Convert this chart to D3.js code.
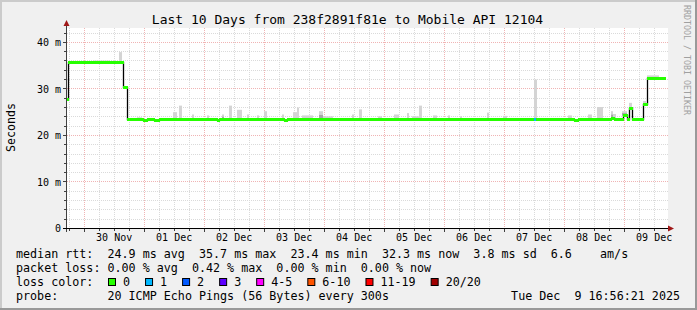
<!DOCTYPE html>
<html>
<head>
<meta charset="utf-8">
<script src="https://cdn.jsdelivr.net/npm/d3@7"></script>
<style>
  body { margin: 0; background: #f0f0f0; }
  svg text { font-family: "DejaVu Sans Mono", monospace; fill: #000; }
</style>
</head>
<body>
<svg id="chart" width="697" height="310"></svg>
<script>
// median rtt, as steps: hours since the window start and value in ms
var medianHours = [0, 0.8, 22.9, 24.4, 30.9, 32.3, 35.2, 37.2, 60.3, 61.1, 87.2, 88.4,
                   187.2, 188, 203.2, 204.8, 218, 219.2, 222.8, 224.3, 225.2, 226.4, 230.9, 232.3];
var medianMs = [27.8, 35.7, 30.3, 23.4, 23.15, 23.4, 23.15, 23.4, 23.15, 23.4, 23.15, 23.4,
                23.4, 23.4, 23.15, 23.4, 23.55, 23.4, 24.3, 23.4, 25.7, 23.4, 26.7, 32.3];
// number of lost pings (out of 20) for each median step
var medianLoss = [0, 0, 0, 0, 0, 0, 0, 0, 0, 0, 0, 0,
                  1, 0, 0, 0, 0, 0, 0, 0, 0, 0, 0, 0];

// smoke: spread of the pings above the median
var smokeFrom = [10.8, 21.3, 28.3, 42.7, 45.2, 50.3, 56.3, 62.3, 65.2, 68.5, 72.4, 76.3, 79.2,
                 86.4, 90.9, 92.3, 94.3, 101.2, 102.9, 114.4, 117.1, 124.8, 131.2, 136.3, 138.4,
                 141.2, 146.9, 152.8, 157.6, 168.4, 174.8, 187.2, 200.9, 208.9, 212.3, 217.9,
                 218.9, 222.5, 225.1, 230.9, 232.3];
var smokeTo   = [17.6, 22.4, 30.3, 44.3, 46.4, 51.2, 57.1, 63.2, 66.3, 70.3, 73.2, 77.1, 80.3,
                 87.2, 92.3, 93.2, 98.9, 102.9, 106.8, 115.2, 118.4, 126.3, 133.1, 137.1, 142.4,
                 142.4, 148.3, 153.6, 158.4, 169.2, 176.4, 188.4, 202.3, 210.3, 214.7, 218.9,
                 220, 224.3, 226.4, 232, 237.3];
var smokeTop  = [36.1, 37.9, 23.9, 25.0, 26.4, 24.5, 24.3, 24.5, 26.4, 25.5, 24.5, 24.3, 25.2,
                 24.5, 25.0, 26.0, 24.3, 25.2, 24.1, 24.5, 25.6, 24.1, 24.5, 24.8, 24.1,
                 26.4, 24.3, 24.3, 24.1, 24.9, 24.2, 32.0, 24.3, 24.5, 26.1, 25.2,
                 24.6, 25.2, 27.0, 27.4, 32.9];
var smokeDark = [0, 0, 0, 0, 0, 0, 0, 1, 0, 0, 0, 0, 0,
                 0, 0, 0, 0, 1, 0, 0, 0, 0, 0, 0, 0,
                 0, 0, 0, 0, 0, 0, 0, 0, 0, 0, 1,
                 0, 1, 0, 0, 0];

var yTicks = [0, 10, 20, 30, 40];
var lossLabels = ["0", "1", "2", "3", "4-5", "6-10", "11-19", "20/20"];
var lossColors = ["#26ff00", "#00b8ff", "#0059ff", "#5e00ff", "#ff00ff", "#ff5500", "#ff0000", "#a00000"];

var titleText = "Last 10 Days from 238f2891f81e to Mobile API 12104";
var legendRows = [
  "median rtt:  24.9 ms avg  35.7 ms max  23.4 ms min  32.3 ms now  3.8 ms sd  6.6    am/s",
  "packet loss: 0.00 % avg  0.42 % max  0.00 % min  0.00 % now",
  "loss color:",
  "probe:       20 ICMP Echo Pings (56 Bytes) every 300s"
];
var stampText = "Tue Dec  9 16:56:21 2025";

var END = new Date(Date.UTC(2025, 11, 9, 16, 56, 21));
var START = new Date(END.getTime() - 10 * 24 * 3600e3);
function hourDate(h) { return new Date(START.getTime() + h * 3600e3); }

var W = 697, H = 310;
var svg = d3.select('#chart');

var x = d3.scaleUtc().domain([START, END]).range([66, 666]);
var y = d3.scaleLinear().domain([0, 42.97]).range([228.5, 28.5]);

// background and 3d frame
svg.append('rect').attr('width', W).attr('height', H).attr('fill', '#f0f0f0');
svg.append('rect').attr('x', 0).attr('y', 0).attr('width', W).attr('height', 2).attr('fill', '#cbcbcb');
svg.append('rect').attr('x', 0).attr('y', 0).attr('width', 2).attr('height', H).attr('fill', '#cbcbcb');
svg.append('rect').attr('x', 0).attr('y', H - 2).attr('width', W).attr('height', 2).attr('fill', '#999');
svg.append('rect').attr('x', W - 2).attr('y', 0).attr('width', 2).attr('height', H).attr('fill', '#999');

svg.append('rect').attr('x', 67).attr('y', 28).attr('width', 601).attr('height', 200).attr('fill', '#fff');

// grid
var grid = svg.append('g').attr('fill', 'none').attr('stroke-dasharray', '1,1');
var sixHours = d3.utcHour.every(6).range(START, END);
sixHours.forEach(function(t) {
  var major = t.getUTCHours() == 0;
  var px = Math.round(x(t)) + 0.5;
  grid.append('line')
      .attr('x1', px).attr('x2', px).attr('y1', 28).attr('y2', 228)
      .attr('stroke', major ? '#f0b4b4' : '#dadada');
});
d3.range(2, 43, 2).forEach(function(v) {
  var py = Math.round(y(v) - 0.5) + 0.5;
  grid.append('line')
      .attr('x1', 67).attr('x2', 668).attr('y1', py).attr('y2', py)
      .attr('stroke', v % 10 == 0 ? '#f0b4b4' : '#dadada');
});

function medianAt(h) {
  var i = Math.max(0, d3.bisectRight(medianHours, h) - 1);
  return medianMs[i];
}

// smoke
var smoke = svg.append('g');
smokeFrom.forEach(function(h0, i) {
  var h1 = smokeTo[i];
  var base = medianAt((h0 + h1) / 2);
  var x0 = Math.round(x(hourDate(h0))), x1 = Math.round(x(hourDate(h1)));
  var w = Math.max(2, x1 - x0);
  smoke.append('rect')
      .attr('x', x0).attr('width', w)
      .attr('y', y(smokeTop[i])).attr('height', y(base) - y(smokeTop[i]))
      .attr('fill', '#d4d4d4');
  if (smokeDark[i]) {
    var mid = base + (smokeTop[i] - base) * 0.55;
    smoke.append('rect')
        .attr('x', x0).attr('width', w)
        .attr('y', y(mid)).attr('height', y(base) - y(mid))
        .attr('fill', '#a8a8a8');
  }
});

// median: black step line with loss-coloured steps on top
var steps = medianHours.map(function(h, i) { return [hourDate(h), medianMs[i]]; });
steps.push([hourDate(239.6), medianMs[medianMs.length - 1]]);
var stepLine = d3.line()
    .x(function(d) { return Math.round(x(d[0])) + 0.5; })
    .y(function(d) { return Math.round(y(d[1]) - 0.5) + 0.5; })
    .curve(d3.curveStepAfter);
svg.append('path').attr('d', stepLine(steps))
    .attr('fill', 'none').attr('stroke', '#000').attr('stroke-width', 1.3);

var med = svg.append('g');
medianHours.forEach(function(h, i) {
  var h1 = i + 1 < medianHours.length ? medianHours[i + 1] : 239.6;
  var py = Math.round(y(medianMs[i]) - 0.5) + 0.5;
  med.append('line')
      .attr('x1', Math.round(x(hourDate(h)))).attr('x2', Math.round(x(hourDate(h1))) + 1)
      .attr('y1', py).attr('y2', py)
      .attr('stroke', lossColors[medianLoss[i]]).attr('stroke-width', 3);
});

// axes lines, small ticks and arrows
var axisCol = '#404040';
var ticks = svg.append('g').attr('stroke', axisCol);
sixHours.forEach(function(t) {
  var px = Math.round(x(t)) + 0.5;
  var major = t.getUTCHours() == 0;
  ticks.append('line').attr('x1', px).attr('x2', px)
      .attr('y1', 228).attr('y2', major ? 232 : 231);
});
d3.range(0, 43, 2).forEach(function(v) {
  var py = Math.round(y(v) - 0.5) + 0.5;
  ticks.append('line').attr('x1', v % 10 == 0 ? 63 : 64).attr('x2', 67)
      .attr('y1', py).attr('y2', py);
});
svg.append('line').attr('x1', 66.5).attr('x2', 66.5).attr('y1', 232).attr('y2', 24)
    .attr('stroke', axisCol);
svg.append('line').attr('x1', 63).attr('x2', 669).attr('y1', 228.5).attr('y2', 228.5)
    .attr('stroke', '#000');
svg.append('path').attr('d', 'M63.5,26L66.5,20L69.5,26Z').attr('fill', '#a01818');
svg.append('path').attr('d', 'M668,225.5L674,228.5L668,231.5Z').attr('fill', '#a01818');

// tick labels through d3 axes
var noons = d3.utcDay.range(START, END).map(function(d) { return d3.utcHour.offset(d, 12); });
var xAxis = svg.append('g').attr('transform', 'translate(0,231)')
    .call(d3.axisBottom(x).tickValues(noons).tickFormat(d3.utcFormat('%d %b')).tickSize(0));
xAxis.select('.domain').remove();
xAxis.selectAll('text').attr('font-size', '10px').attr('font-family', '"DejaVu Sans Mono", monospace')
    .attr('fill', '#000').attr('dy', '0.71em');

var yAxis = svg.append('g').attr('transform', 'translate(61,0)')
    .call(d3.axisLeft(y).tickValues(yTicks)
      .tickFormat(function(d) { return d == 0 ? '0' : d + ' m'; }).tickSize(0));
yAxis.select('.domain').remove();
yAxis.selectAll('text').attr('font-size', '10px').attr('font-family', '"DejaVu Sans Mono", monospace')
    .attr('fill', '#000').attr('x', 0);

// titles
svg.append('text').attr('x', 347.5).attr('y', 24).attr('text-anchor', 'middle')
    .attr('font-size', '13px').text(titleText);
svg.append('text').attr('transform', 'translate(15,127.5) rotate(-90)')
    .attr('text-anchor', 'middle').attr('font-size', '11.6px').text('Seconds');
svg.append('text').attr('transform', 'translate(684,5) rotate(90)')
    .attr('font-size', '8.3px').style('fill', '#a0a0a0').text('RRDTOOL / TOBI OETIKER');

// legend
var legend = svg.append('g').attr('font-size', '11.7px');
legendRows.forEach(function(s, i) {
  legend.append('text').attr('x', 16).attr('y', 258 + i * 14)
      .attr('xml:space', 'preserve').style('white-space', 'pre').text(s);
});
legend.append('text').attr('x', 680).attr('y', 300).attr('text-anchor', 'end')
    .attr('xml:space', 'preserve').style('white-space', 'pre').text(stampText);

var lx = 108;
lossLabels.forEach(function(lab, i) {
  legend.append('rect').attr('x', lx + 0.5).attr('y', 278.5).attr('width', 7).attr('height', 7)
      .attr('fill', lossColors[i]).attr('stroke', '#000');
  var t = legend.append('text').attr('x', lx + 15).attr('y', 286).text(lab);
  lx = lx + 15 + t.node().getComputedTextLength() + 15;
});
</script>
</body>
</html>
